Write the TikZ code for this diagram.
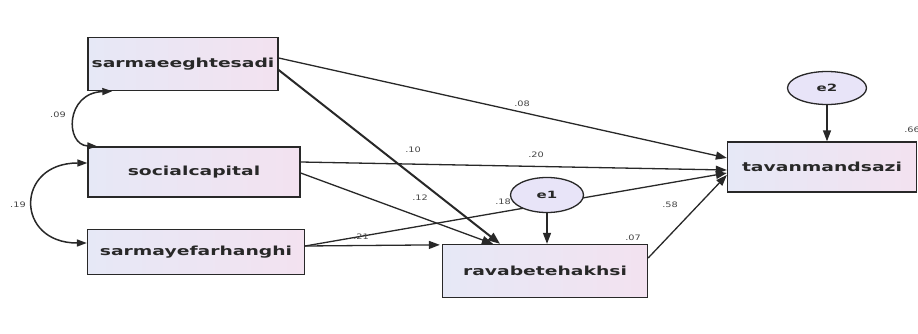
\documentclass[tikz,border=0pt]{standalone}
\usepackage{fontspec}
\newfontfamily\boxfont[FakeStretch=1.5]{DejaVu Sans Bold}
\newfontfamily\labfont[FakeStretch=1.3]{DejaVu Sans}
\usetikzlibrary{arrows.meta,shapes.geometric}
\definecolor{boxL}{RGB}{230,232,246}
\definecolor{boxR}{RGB}{243,226,240}
\definecolor{ellfill}{RGB}{232,228,248}
\definecolor{ink}{RGB}{40,40,40}
\definecolor{labink}{RGB}{70,70,70}
\tikzset{
  var/.style={draw=ink, line width=1.3pt, left color=boxL, right color=boxR,
    font=\boxfont\fontsize{12.5}{14}\selectfont, text=ink, inner sep=0pt},
  err/.style={ellipse, draw=ink, line width=1.3pt, fill=ellfill,
    font=\boxfont\fontsize{10}{12}\selectfont, text=ink, inner sep=0pt},
  path/.style={draw=ink, line width=1.3pt, -{Triangle[length=11pt,width=8pt]}},
  thickpath/.style={draw=ink, line width=2pt, -{Triangle[length=12pt,width=9pt]}},
  cov/.style={draw=ink, line width=1.5pt, {Triangle[length=10pt,width=7pt]}-{Triangle[length=10pt,width=7pt]}},
  lab/.style={font=\labfont\fontsize{7.5}{8}\selectfont, text=labink, inner sep=0pt}
}
\begin{document}
\begin{tikzpicture}[x=1pt,y=1pt]
\fill[white] (0,0) rectangle (918,333);
\useasboundingbox (0,0) rectangle (918,333);

% observed variables
\node[var, minimum width=190pt, minimum height=53pt] (A) at (183,269) {sarmaeeghtesadi};
\node[var, minimum width=212pt, minimum height=50pt] (B) at (194,161) {socialcapital};
\node[var, minimum width=217pt, minimum height=45pt] (C) at (196,81) {sarmayefarhanghi};
\node[var, minimum width=205pt, minimum height=53pt] (D) at (545,62) {ravabetehakhsi};
\node[var, minimum width=189pt, minimum height=50pt] (E) at (822,166) {tavanmandsazi};

% covariances
\draw[cov] ([xshift=25pt]A.south west) .. controls (65,240) and (65,188) .. ([xshift=10pt]B.north west);
\draw[cov] ([yshift=9pt]B.west) .. controls (15,170) and (15,90) .. ([yshift=9pt]C.west);

% paths (drawn beneath the error ellipses)
\draw[path] ([yshift=6pt]A.east) -- ([yshift=9pt]E.west);
\draw[thickpath] ([yshift=-6pt]A.east) -- ([xshift=-45pt]D.north);
\draw[path] ([yshift=10pt]B.east) -- ([yshift=-3pt]E.west);
\draw[path] ([yshift=-1pt]B.east) -- ([xshift=-52pt]D.north);
\draw[path] ([yshift=6pt]C.east) -- ([yshift=-6pt]E.west);
\draw[path] ([yshift=6pt]C.east) -- ([xshift=-2pt,yshift=-1pt]D.north west);
\draw[path] ([yshift=13pt]D.east) -- ([yshift=-8pt]E.west);

% error terms
\node[err, minimum width=73pt, minimum height=35pt] (e1) at (547,138) {e1};
\node[err, minimum width=79pt, minimum height=33pt] (e2) at (827,245) {e2};
\draw[path] (e1.south) -- (D.north -| e1.south);
\draw[path] (e2.south) -- (E.north -| e2.south);

% coefficients
\node[lab] (l09) at (58,218) {.09};
\node[lab] (l19) at (18,128) {.19};
\node[lab] (l08) at (522,229) {.08};
\node[lab] (l10) at (413,183) {.10};
\node[lab] (l20) at (536,178) {.20};
\node[lab] (l12) at (420,135) {.12};
\node[lab] (l18) at (503,131) {.18};
\node[lab] (l21) at (361,96) {.21};
\node[lab] (l58) at (670,128) {.58};
\node[lab] (l07) at (633,95) {.07};
\node[lab] (l66) at (912,203) {.66};
\end{tikzpicture}
\end{document}
